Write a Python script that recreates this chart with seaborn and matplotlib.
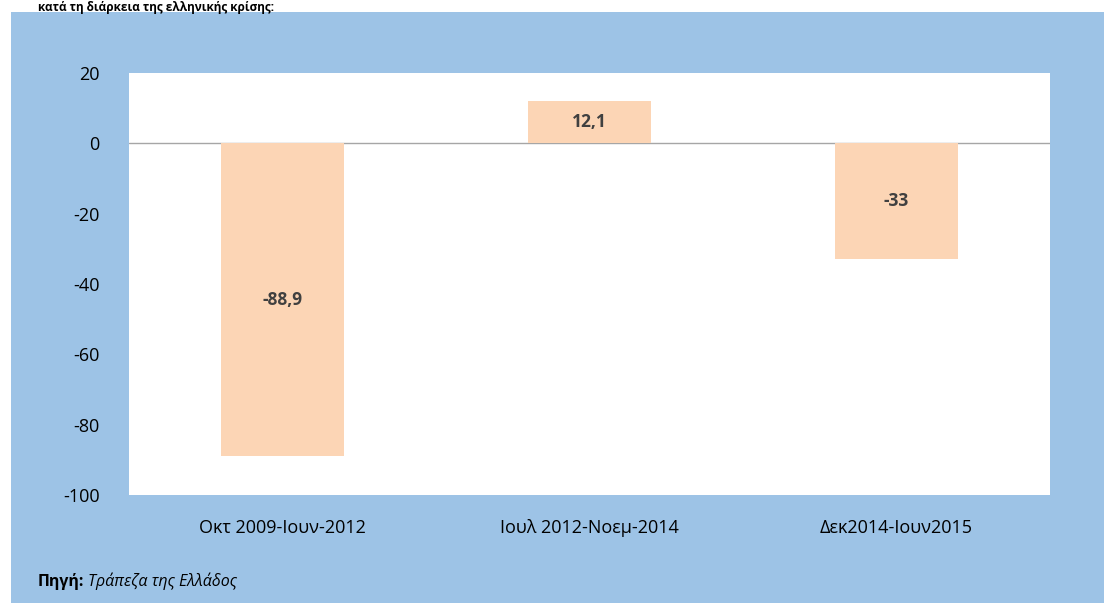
import matplotlib
matplotlib.use("Agg")
import matplotlib.pyplot as plt
import matplotlib.patches as mpatches
import pandas as pd
import seaborn as sns

# data
periods = ["Οκτ 2009-Ιουν-2012", "Ιουλ 2012-Νοεμ-2014", "Δεκ2014-Ιουν2015"]
values = [-88.9, 12.1, -33]
value_labels = ["-88,9", "12,1", "-33"]
y_ticks = [-100, -80, -60, -40, -20, 0, 20]

df = pd.DataFrame({"period": periods, "value": values})

sns.set_theme(style="white")
plt.rcParams["font.family"] = ["Open Sans", "DejaVu Sans"]

fig = plt.figure(figsize=(11.04, 6.03), dpi=100)
fig.patch.set_facecolor("white")

# blue background panel
W, H = 1104, 603
bg = mpatches.Rectangle((11 / W, 0), 1 - 11 / W, 1 - 12 / H,
                        transform=fig.transFigure, facecolor="#9DC3E6",
                        edgecolor="none", zorder=-10)
fig.add_artist(bg)

ax = fig.add_axes([129 / W, 1 - 495 / H, (1050 - 129) / W, (495 - 73) / H])
ax.set_zorder(5)
ax.set_facecolor("white")

sns.barplot(data=df, x="period", y="value", color="#FCD5B5", saturation=1,
            width=0.4, linewidth=0, ax=ax, zorder=2)

for i, (v, lab) in enumerate(zip(values, value_labels)):
    ax.text(i, v / 2, lab, ha="center", va="center", fontsize=12.5,
            fontweight="bold", color="#404040", zorder=3)

ax.axhline(0, color="#A6A6A6", linewidth=1, zorder=1)
ax.set_xlim(-0.5, 2.5)
ax.set_ylim(-100, 20)
ax.set_yticks(y_ticks)
ax.set_yticklabels([str(t) for t in y_ticks])
ax.tick_params(axis="both", length=0, labelsize=13, colors="black")
ax.tick_params(axis="x", pad=17)
ax.tick_params(axis="y", pad=21)
ax.set_xlabel("")
ax.set_ylabel("")
for s in ax.spines.values():
    s.set_visible(False)

# title line at the top
fig.text(38 / W, 1 - 0.5 / H, "κατά τη διάρκεια της ελληνικής κρίσης:", fontsize=8.5,
         fontweight="bold", color="black", va="top", ha="left")

# source
t1 = fig.text(38 / W, 1 - 581 / H, "Πηγή:", fontsize=11.5, fontweight="bold",
              color="black", va="center", ha="left")
fig.canvas.draw()
bb = t1.get_window_extent()
fig.text(bb.x1 / W + 4 / W, 1 - 581 / H, "Τράπεζα της Ελλάδος", fontsize=11.5,
         fontstyle="italic", color="black", va="center", ha="left")

fig.savefig("out.png", dpi=100)
